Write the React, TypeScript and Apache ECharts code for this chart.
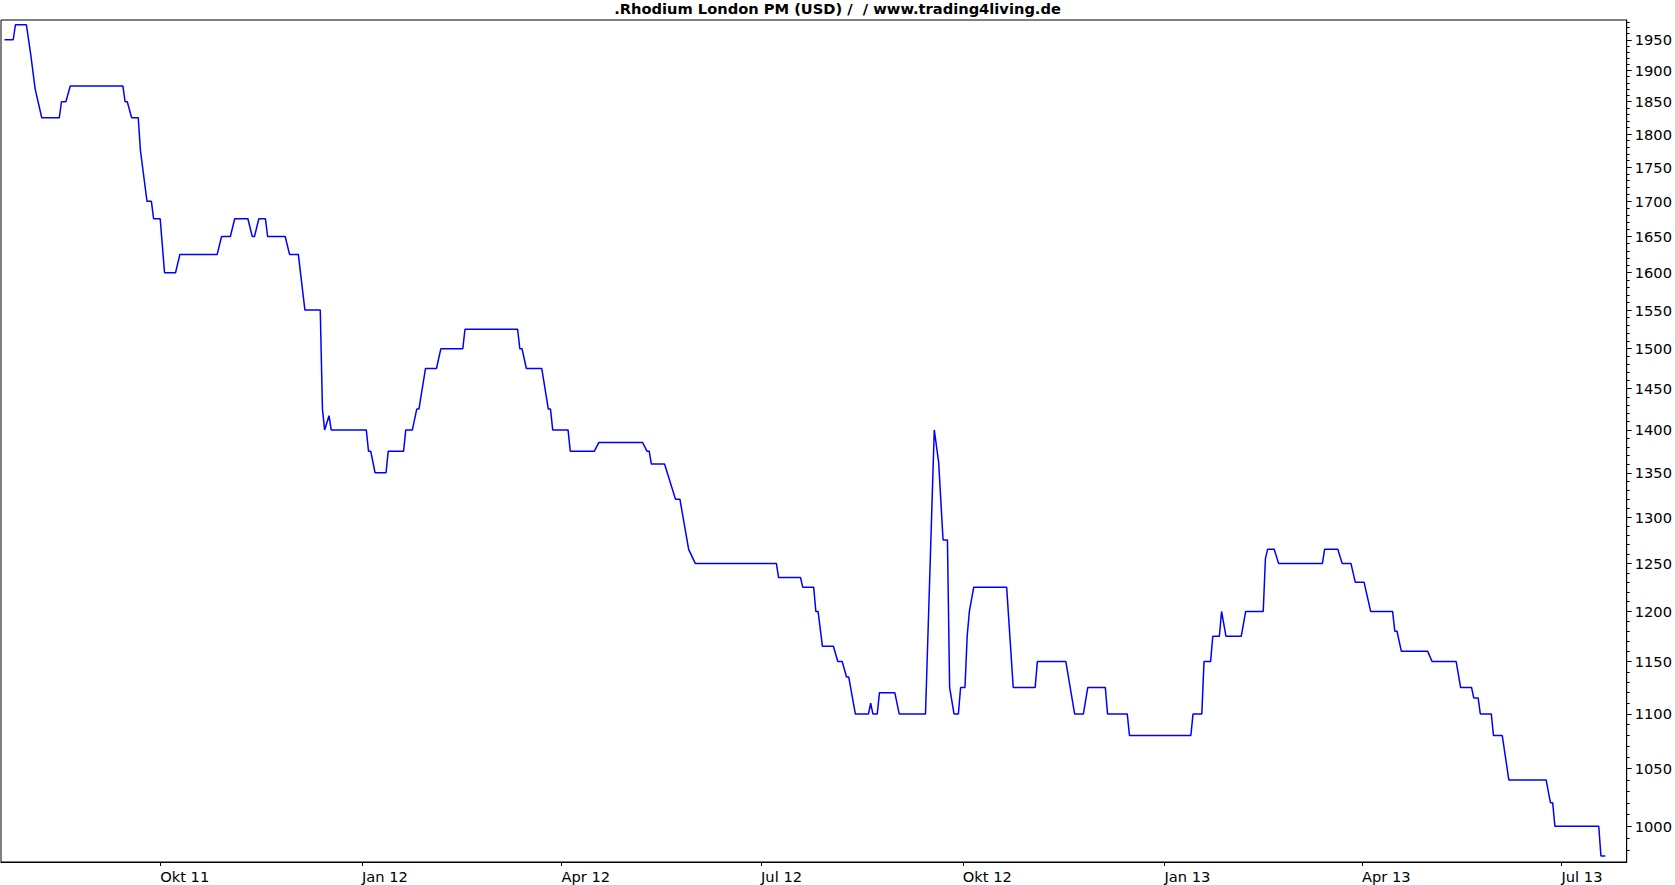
import { useEffect, useRef } from "react";
import * as echarts from "echarts";

const TITLE = ".Rhodium London PM (USD) /  / www.trading4living.de";

const prices2011: [string, number][] = [
  ["2011-07-22", 1950], ["2011-07-26", 1950], ["2011-07-27", 1975], ["2011-08-01", 1975],
  ["2011-08-03", 1925], ["2011-08-05", 1870], ["2011-08-08", 1825], ["2011-08-16", 1825],
  ["2011-08-17", 1850], ["2011-08-19", 1850], ["2011-08-21", 1875], ["2011-09-14", 1875],
  ["2011-09-15", 1850], ["2011-09-16", 1850], ["2011-09-18", 1825], ["2011-09-21", 1825],
  ["2011-09-22", 1775], ["2011-09-25", 1700], ["2011-09-27", 1700], ["2011-09-28", 1675],
  ["2011-10-01", 1675], ["2011-10-03", 1600], ["2011-10-08", 1600], ["2011-10-10", 1625],
  ["2011-10-27", 1625], ["2011-10-29", 1650], ["2011-11-02", 1650], ["2011-11-04", 1675],
  ["2011-11-10", 1675], ["2011-11-12", 1650], ["2011-11-13", 1650], ["2011-11-15", 1675],
  ["2011-11-18", 1675], ["2011-11-19", 1650], ["2011-11-27", 1650], ["2011-11-29", 1625],
  ["2011-12-03", 1625], ["2011-12-06", 1550], ["2011-12-13", 1550], ["2011-12-14", 1425],
  ["2011-12-15", 1400], ["2011-12-17", 1417], ["2011-12-18", 1400],
];

const prices2012: [string, number][] = [
  ["2012-01-03", 1400], ["2012-01-04", 1375], ["2012-01-05", 1375], ["2012-01-07", 1350],
  ["2012-01-12", 1350], ["2012-01-13", 1375], ["2012-01-20", 1375], ["2012-01-21", 1400],
  ["2012-01-24", 1400], ["2012-01-26", 1425], ["2012-01-27", 1425], ["2012-01-30", 1475],
  ["2012-02-04", 1475], ["2012-02-06", 1500], ["2012-02-16", 1500], ["2012-02-17", 1525],
  ["2012-03-12", 1525], ["2012-03-13", 1500], ["2012-03-14", 1500], ["2012-03-16", 1475],
  ["2012-03-23", 1475], ["2012-03-26", 1425], ["2012-03-27", 1425], ["2012-03-28", 1400],
  ["2012-04-04", 1400], ["2012-04-05", 1375], ["2012-04-16", 1375], ["2012-04-18", 1385],
  ["2012-05-08", 1385], ["2012-05-10", 1375], ["2012-05-11", 1375], ["2012-05-12", 1360],
  ["2012-05-18", 1360], ["2012-05-23", 1320], ["2012-05-25", 1320], ["2012-05-29", 1265],
  ["2012-06-01", 1250], ["2012-07-08", 1250], ["2012-07-09", 1235], ["2012-07-19", 1235],
  ["2012-07-20", 1225], ["2012-07-25", 1225], ["2012-07-26", 1200], ["2012-07-27", 1200],
  ["2012-07-29", 1165], ["2012-08-03", 1165], ["2012-08-05", 1150], ["2012-08-07", 1150],
  ["2012-08-09", 1135], ["2012-08-10", 1135], ["2012-08-13", 1100], ["2012-08-19", 1100],
  ["2012-08-20", 1110], ["2012-08-21", 1100], ["2012-08-23", 1100], ["2012-08-24", 1120],
  ["2012-08-31", 1120], ["2012-09-02", 1100], ["2012-09-14", 1100], ["2012-09-18", 1400],
  ["2012-09-20", 1362], ["2012-09-22", 1275], ["2012-09-24", 1275], ["2012-09-25", 1125],
  ["2012-09-27", 1100], ["2012-09-29", 1100], ["2012-09-30", 1125], ["2012-10-02", 1125],
  ["2012-10-03", 1175], ["2012-10-04", 1200], ["2012-10-06", 1225], ["2012-10-21", 1225],
  ["2012-10-24", 1125], ["2012-11-03", 1125], ["2012-11-04", 1150], ["2012-11-17", 1150],
  ["2012-11-21", 1100], ["2012-11-25", 1100], ["2012-11-27", 1125], ["2012-12-05", 1125],
  ["2012-12-06", 1100], ["2012-12-15", 1100], ["2012-12-16", 1080],
];

const prices2013: [string, number][] = [
  ["2013-01-13", 1080], ["2013-01-14", 1100], ["2013-01-18", 1100], ["2013-01-19", 1150],
  ["2013-01-22", 1150], ["2013-01-23", 1175], ["2013-01-26", 1175], ["2013-01-27", 1200],
  ["2013-01-29", 1175], ["2013-02-05", 1175], ["2013-02-07", 1200], ["2013-02-15", 1200],
  ["2013-02-16", 1255], ["2013-02-17", 1265], ["2013-02-20", 1265], ["2013-02-22", 1250],
  ["2013-03-14", 1250], ["2013-03-15", 1265], ["2013-03-21", 1265], ["2013-03-23", 1250],
  ["2013-03-27", 1250], ["2013-03-29", 1230], ["2013-04-02", 1230], ["2013-04-05", 1200],
  ["2013-04-15", 1200], ["2013-04-16", 1180], ["2013-04-17", 1180], ["2013-04-19", 1160],
  ["2013-05-01", 1160], ["2013-05-03", 1150], ["2013-05-14", 1150], ["2013-05-16", 1125],
  ["2013-05-21", 1125], ["2013-05-22", 1115], ["2013-05-24", 1115], ["2013-05-25", 1100],
  ["2013-05-30", 1100], ["2013-05-31", 1080], ["2013-06-04", 1080], ["2013-06-07", 1040],
  ["2013-06-24", 1040], ["2013-06-26", 1020], ["2013-06-27", 1020], ["2013-06-28", 1000],
  ["2013-07-18", 1000], ["2013-07-19", 975], ["2013-07-21", 975],
];

const xTickDates = [
  "2011-10-01", "2012-01-01", "2012-04-01", "2012-07-01",
  "2012-10-01", "2013-01-01", "2013-04-01", "2013-07-01",
];
const xTickLabels = ["Okt 11", "Jan 12", "Apr 12", "Jul 12", "Okt 12", "Jan 13", "Apr 13", "Jul 13"];

const yLabelValues = [
  1000, 1050, 1100, 1150, 1200, 1250, 1300, 1350, 1400, 1450,
  1500, 1550, 1600, 1650, 1700, 1750, 1800, 1850, 1900, 1950,
];

const X_MIN = "2011-07-20 10:00";
const X_MAX = "2013-07-30 18:00";
const Y_MIN = 970;
const Y_MAX = 1983;

function parseLocal(s: string): number {
  const [d, t] = s.split(" ");
  const [y, m, day] = d.split("-").map(Number);
  const [hh, mm] = (t || "00:00").split(":").map(Number);
  return new Date(y, m - 1, day, hh, mm).getTime();
}

const FONT = "'DejaVu Sans', Verdana, sans-serif";

export default function App() {
  const ref = useRef<HTMLDivElement>(null);

  useEffect(() => {
    if (!ref.current) return;
    const chart = echarts.init(ref.current, null, { renderer: "svg" });

    const minorTicks: number[] = [];
    for (let v = 980; v <= 1980; v += 10) {
      if (yLabelValues.indexOf(v) < 0) minorTicks.push(v);
    }

    const xTickTimes = xTickDates.map((s) => parseLocal(s));
    const xLabelFor = (val: number) => {
      let best = -1;
      let bestDiff = Infinity;
      xTickTimes.forEach((t, i) => {
        const diff = Math.abs(t - val);
        if (diff < bestDiff) {
          bestDiff = diff;
          best = i;
        }
      });
      return best >= 0 && bestDiff < 86400000 ? xTickLabels[best] : "";
    };

    const seriesData = [...prices2011, ...prices2012, ...prices2013].map(
      ([d, v]) => [parseLocal(d), v]
    );

    const option: any = {
      animation: false,
      backgroundColor: "#ffffff",
      title: {
        text: TITLE,
        left: "center",
        top: 1,
        padding: 0,
        textStyle: { fontFamily: FONT, fontSize: 14.67, fontWeight: "bold", color: "#000" },
      },
      grid: {
        left: 1,
        top: 20,
        right: 47,
        bottom: 23,
        show: true,
        borderColor: "#000",
        borderWidth: 1,
        backgroundColor: "transparent",
        containLabel: false,
      },
      xAxis: {
        type: "value",
        min: parseLocal(X_MIN),
        max: parseLocal(X_MAX),
        scale: true,
        axisLine: { show: true, onZero: false, lineStyle: { color: "#000", width: 1 } },
        axisTick: {
          show: true,
          length: 4,
          lineStyle: { color: "#000", width: 1 },
          customValues: xTickTimes,
        },
        axisLabel: {
          customValues: xTickTimes,
          formatter: (val: number) => xLabelFor(val),
          align: "left",
          margin: 7,
          color: "#000",
          fontFamily: FONT,
          fontSize: 14.67,
        },
        splitLine: { show: false },
      },
      yAxis: [
        {
          type: "log",
          logBase: 10,
          min: Y_MIN,
          max: Y_MAX,
          position: "right",
          axisLine: { show: true, lineStyle: { color: "#000", width: 1 } },
          axisTick: {
            show: true,
            length: 5,
            lineStyle: { color: "#000", width: 1 },
            customValues: yLabelValues,
          },
          axisLabel: {
            customValues: yLabelValues,
            formatter: (v: number) => String(Math.round(v)),
            margin: 8,
            color: "#000",
            fontFamily: FONT,
            fontSize: 14.67,
          },
          splitLine: { show: false },
          minorTick: { show: false },
        },
        {
          type: "log",
          logBase: 10,
          min: Y_MIN,
          max: Y_MAX,
          position: "right",
          axisLine: { show: false },
          axisTick: {
            show: true,
            length: 3,
            lineStyle: { color: "#000", width: 1 },
            customValues: minorTicks,
          },
          axisLabel: { show: false },
          splitLine: { show: false },
        },
      ],
      series: [
        {
          type: "line",
          data: seriesData,
          yAxisIndex: 0,
          showSymbol: false,
          symbol: "none",
          lineStyle: { color: "#0000ff", width: 1.5 },
          itemStyle: { color: "#0000ff" },
          emphasis: { disabled: true },
        },
      ],
    };

    chart.setOption(option);
    return () => chart.dispose();
  }, []);

  return (
    <div
      ref={ref}
      style={{ position: "absolute", left: 0, top: 0, width: 1675, height: 885, background: "#fff" }}
    />
  );
}
